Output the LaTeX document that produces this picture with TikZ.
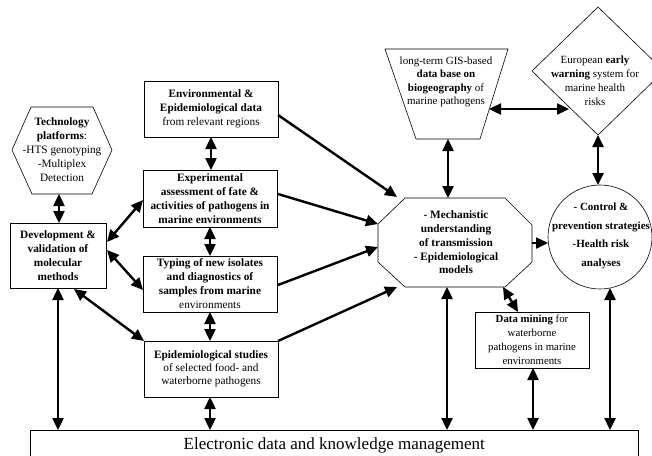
\documentclass[tikz,border=0pt]{standalone}
\usepackage{fontspec}
\setmainfont{Liberation Serif}
\usetikzlibrary{arrows.meta}
\begin{document}
\begin{tikzpicture}[x=1pt,y=-1pt,
  rbox/.style={draw, line width=0.6pt, align=center, inner sep=0pt, font=\fontsize{11.3}{14}\selectfont},
  lbl/.style={align=center, inner sep=0pt, font=\fontsize{11.3}{14}\selectfont},
  shp/.style={draw, line width=0.6pt},
  arr/.style={line width=2.4pt, -{Triangle[length=12pt,width=11pt]}},
  darr/.style={line width=2.4pt, {Triangle[length=12pt,width=11pt]}-{Triangle[length=12pt,width=11pt]}}
]
\useasboundingbox (0,0) rectangle (652,455);

% ---------- shapes ----------
\draw[shp] (31,107) -- (93,107) -- (112,150) -- (92,194) -- (32,194) -- (12,150) -- cycle;
\node[lbl] (tech) at (62,150) {\textbf{Technology}\\\textbf{platforms}:\\-HTS genotyping\\-Multiplex\\Detection};

\node[rbox, minimum width=96pt, minimum height=65pt] (dev) at (58,255.5)
  {\textbf{Development \&}\\\textbf{validation of}\\\textbf{molecular}\\\textbf{methods}};

\node[rbox, minimum width=134pt, minimum height=56pt] (env) at (211,109)
  {\textbf{Environmental \&}\\\textbf{Epidemiological data}\\from relevant regions};
\node[rbox, minimum width=134pt, minimum height=57pt] (exp) at (210,198.5)
  {\textbf{Experimental}\\\textbf{assessment of fate \&}\\\textbf{activities of pathogens in}\\\textbf{marine environments}};
\node[rbox, minimum width=134pt, minimum height=56pt] (typ) at (210,284)
  {\textbf{Typing of new isolates}\\\textbf{and diagnostics of}\\\textbf{samples from marine}\\environments};
\node[rbox, minimum width=134pt, minimum height=56pt, font=\fontsize{11.3}{13}\selectfont] (epi) at (211,369)
  {\textbf{Epidemiological studies}\\of selected food- and\\waterborne pathogens};

\draw[shp] (385,49) -- (508,49) -- (480,139) -- (416,139) -- cycle;
\node[lbl, font=\fontsize{11}{13.5}\selectfont] (gis) at (446,82)
  {long-term GIS-based\\\textbf{data base on}\\\textbf{biogeography} of\\marine pathogens};

\draw[shp] (598,7) -- (664,71) -- (598,135) -- (532,71) -- cycle;
\node[lbl, font=\fontsize{11}{14}\selectfont] (ews) at (595,81)
  {European \textbf{early}\\\textbf{warning} system for\\marine health\\risks};

\draw[shp] (405,198) -- (505,198) -- (532,225) -- (532,262) -- (505,287) -- (405,287) -- (378,262) -- (378,224) -- cycle;
\node[lbl, font=\fontsize{11.3}{13.8}\bfseries] (mech) at (456,242.5)
  {- Mechanistic\\understanding\\of transmission\\- Epidemiological\\models};

\node[draw, line width=0.6pt, circle, minimum size=104pt, inner sep=0pt] (ctl) at (600,237) {};
\node[lbl, font=\fontsize{11}{18.5}\bfseries] (ctltxt) at (601,236)
  {- Control \&\\prevention strategies\\-Health risk\\analyses};

\node[rbox, minimum width=114pt, minimum height=56pt, font=\fontsize{10.8}{14}\selectfont] (dm) at (532,340)
  {\textbf{Data mining} for\\waterborne\\pathogens in marine\\environments};

\node[rbox, minimum width=608pt, minimum height=30pt, anchor=north west, font=\fontsize{17}{20}\selectfont] (elec) at (30,430)
  {Electronic data and knowledge management};

% ---------- connector end points ----------
\coordinate (hexS) at (59,194);
\coordinate (devN) at (59,223);
\coordinate (devE1) at (107,242);
\coordinate (devE2) at (107,250);
\coordinate (devSE) at (74,289);
\coordinate (devS) at (58,288);
\coordinate (expW) at (143,200);
\coordinate (typW) at (143,290);
\coordinate (epiNW) at (144,341);
\coordinate (envS) at (211,137);
\coordinate (expN) at (211,170);
\coordinate (expS) at (210,227);
\coordinate (typN) at (210,256);
\coordinate (typS) at (210,312);
\coordinate (epiN) at (210,341);
\coordinate (epiS) at (210,397);
\coordinate (envE) at (278,115);
\coordinate (expE) at (278,194);
\coordinate (typE) at (278,285);
\coordinate (epiNE) at (278,341);
\coordinate (mechNW) at (397,197);
\coordinate (mechW1) at (378,224);
\coordinate (mechW2) at (378,247);
\coordinate (mechSW) at (397,287);
\coordinate (gisS) at (448,139);
\coordinate (mechN) at (448,198);
\coordinate (gisE) at (489,109);
\coordinate (ewsW) at (569,109);
\coordinate (ewsS) at (598,135);
\coordinate (ctlN) at (598,185);
\coordinate (mechE) at (532,243);
\coordinate (ctlW) at (548,243);
\coordinate (mechSE) at (503,287);
\coordinate (dmN) at (518,312);
\coordinate (mechS) at (447,287);
\coordinate (dmS) at (533,368);
\coordinate (ctlS) at (610,288);

% ---------- connectors ----------
\draw[darr] (hexS) -- (devN);
\draw[darr] (devE1) -- (expW);
\draw[darr] (devE2) -- (typW);
\draw[darr] (devSE) -- (epiNW);
\draw[darr] (devS) -- (devS |- elec.north);
\draw[darr] (envS) -- (expN);
\draw[darr] (expS) -- (typN);
\draw[darr] (typS) -- (epiN);
\draw[darr] (epiS) -- (epiS |- elec.north);
\draw[arr] (envE) -- (mechNW);
\draw[arr] (expE) -- (mechW1);
\draw[arr] (typE) -- (mechW2);
\draw[arr] (epiNE) -- (mechSW);
\draw[darr] (gisS) -- (mechN);
\draw[darr] (gisE) -- (ewsW);
\draw[darr] (ewsS) -- (ctlN);
\draw[arr] (mechE) -- (ctlW);
\draw[darr] (mechSE) -- (dmN);
\draw[darr] (mechS) -- (mechS |- elec.north);
\draw[darr] (dmS) -- (dmS |- elec.north);
\draw[darr] (ctlS) -- (ctlS |- elec.north);
\end{tikzpicture}
\end{document}
